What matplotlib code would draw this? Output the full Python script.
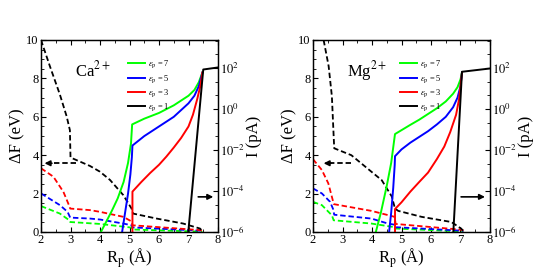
import numpy as np
import matplotlib
matplotlib.use("Agg")
import matplotlib.pyplot as plt
from matplotlib.ticker import FixedLocator, MultipleLocator, FuncFormatter

plt.rcParams["font.family"] = ["Liberation Serif", "DejaVu Serif"]
plt.rcParams["mathtext.fontset"] = "stix"

colors = {7: "#00ff00", 5: "#0000ff", 3: "#ff0000", 1: "#000000"}
eps_order = [7, 5, 3, 1]

# ---- Ca2+ : free energy barrier (dashed, left axis) ----
ca_df = {
    1: ([2.0, 2.3, 2.64, 2.87, 2.98, 3.0, 3.66, 4.0, 4.34, 4.79, 5.07, 5.12, 5.92, 6.82, 7.39, 7.47],
        [10.0, 8.64, 7.16, 6.02, 5.3, 3.88, 3.44, 3.14, 2.71, 1.92, 1.22, 0.96, 0.70, 0.44, 0.18, 0.05]),
    3: ([2.0, 2.42, 2.76, 2.96, 2.99, 3.66, 4.0, 4.79, 5.07, 5.1, 7.39, 7.47],
        [3.32, 2.88, 2.09, 1.35, 1.22, 1.14, 1.05, 0.79, 0.55, 0.35, 0.1, 0.07]),
    5: ([2.0, 2.64, 2.9, 2.99, 3.66, 4.0, 4.79, 5.07, 5.1, 7.39, 7.47],
        [2.01, 1.4, 1.05, 0.75, 0.70, 0.65, 0.44, 0.35, 0.24, 0.07, 0.05]),
    7: ([2.0, 2.64, 2.96, 2.99, 4.0, 5.07, 5.1, 7.39, 7.47],
        [1.35, 0.96, 0.61, 0.52, 0.42, 0.23, 0.13, 0.02, 0.01]),
}
# ---- Ca2+ : current, log10(I/pA) (solid, right axis) ----
ca_logI = {
    7: ([4.03, 4.2, 4.4, 4.6, 4.8, 4.95, 5.05, 5.09, 5.5, 6.0, 6.5, 7.0, 7.2, 7.35, 7.47],
        [-6.0, -5.53, -4.97, -4.36, -3.56, -2.63, -1.69, -0.75, -0.47, -0.19, 0.18, 0.65, 0.93, 1.31, 1.78]),
    5: ([4.75, 4.85, 4.95, 5.03, 5.08, 5.1, 5.5, 6.0, 6.5, 7.0, 7.2, 7.35, 7.47],
        [-6.0, -5.06, -4.13, -3.19, -2.35, -1.78, -1.32, -0.85, -0.38, 0.28, 0.65, 1.12, 1.78]),
    3: ([5.1, 5.1, 5.4, 5.7, 6.0, 6.25, 6.5, 6.75, 7.0, 7.15, 7.3, 7.4, 7.47],
        [-6.5, -4.03, -3.56, -3.12, -2.72, -2.32, -1.88, -1.41, -0.85, -0.28, 0.51, 1.12, 1.78]),
    1: ([6.98, 7.5, 8.0],
        [-6.2, 1.93, 2.03]),
}

# ---- Mg2+ : free energy barrier ----
mg_df = {
    1: ([2.36, 2.53, 2.64, 2.7, 2.72, 3.3, 3.98, 4.33, 4.67, 4.78, 4.89, 5.68, 6.69, 7.02, 7.1],
        [10.0, 8.64, 7.07, 5.0, 4.36, 4.0, 3.14, 2.7, 1.85, 1.22, 1.1, 0.79, 0.52, 0.18, 0.05]),
    3: ([2.0, 2.3, 2.52, 2.68, 2.71, 3.65, 3.98, 4.77, 4.8, 7.02, 7.1],
        [3.79, 3.23, 2.53, 1.6, 1.45, 1.19, 1.1, 0.79, 0.42, 0.12, 0.08]),
    5: ([2.0, 2.3, 2.58, 2.68, 2.72, 3.98, 4.54, 4.77, 4.8, 7.02, 7.1],
        [2.27, 2.01, 1.57, 1.2, 0.9, 0.70, 0.44, 0.38, 0.25, 0.07, 0.05]),
    7: ([2.0, 2.3, 2.64, 2.7, 3.98, 4.77, 4.8, 7.02, 7.1],
        [1.57, 1.4, 0.87, 0.61, 0.44, 0.25, 0.18, 0.03, 0.02]),
}
mg_logI = {
    7: ([4.13, 4.3, 4.5, 4.65, 4.77, 4.78, 5.0, 5.3, 5.6, 5.9, 6.2, 6.5, 6.75, 6.9, 7.0, 7.05],
        [-6.0, -5.06, -3.75, -2.63, -1.32, -1.22, -1.03, -0.77, -0.52, -0.24, 0.04, 0.37, 0.75, 1.07, 1.45, 1.78]),
    5: ([4.58, 4.65, 4.72, 4.77, 4.78, 5.0, 5.3, 5.6, 5.9, 6.2, 6.5, 6.75, 6.9, 7.0, 7.05],
        [-6.0, -5.06, -3.84, -2.72, -2.30, -1.97, -1.64, -1.36, -1.08, -0.75, -0.38, 0.09, 0.56, 1.12, 1.78]),
    3: ([4.78, 4.78, 5.0, 5.3, 5.6, 5.9, 6.2, 6.45, 6.65, 6.85, 6.95, 7.05],
        [-6.5, -4.88, -4.55, -4.03, -3.56, -3.10, -2.44, -1.83, -1.13, -0.28, 0.47, 1.78]),
    1: ([6.75, 7.05, 8.0],
        [-6.2, 1.82, 1.98]),
}

# arrows: (tail x, head x, y) in Rp / dF units
ca_arrows = {"left": (3.2, 2.12, 3.58), "right": (7.33, 7.84, 1.83)}
mg_arrows = {"left": (3.3, 2.36, 3.58), "right": (7.02, 7.83, 1.83)}

major_I = [1e-6, 1e-4, 1e-2, 1e0, 1e2]
minor_I = [10 ** (-6 + 2 * k / 3) for k in range(15) if k % 3 != 0]


def log_fmt(v, pos):
    return r"$10^{%d}$" % int(round(np.log10(v)))


def panel(ax, df, logI, arrows, ion):
    ax2 = ax.twinx()
    for e in eps_order:
        x, y = df[e]
        ax.plot(x, y, color=colors[e], lw=1.3, dashes=(3, 1.6))
    handles = []
    for e in eps_order:
        x, ly = logI[e]
        h, = ax2.plot(x, 10 ** np.array(ly), color=colors[e], lw=1.4,
                      label=r"$\varepsilon_{\rm p}$ = %d" % e)
        handles.append(h)

    ax.set_xlim(2, 8)
    ax.set_ylim(0, 10)
    ax.xaxis.set_major_locator(MultipleLocator(1))
    ax.xaxis.set_minor_locator(MultipleLocator(0.5))
    ax.yaxis.set_major_locator(MultipleLocator(2))
    ax.yaxis.set_minor_locator(MultipleLocator(0.5))
    ax.tick_params(which="both", direction="in", top=True, right=False,
                   labelsize=9, pad=1.5)
    ax.tick_params(which="major", length=3.5)
    ax.tick_params(which="minor", length=2)

    ax2.set_yscale("log")
    ax2.set_ylim(1e-6, 10 ** 3.37)
    ax2.yaxis.set_major_locator(FixedLocator(major_I))
    ax2.yaxis.set_minor_locator(FixedLocator(minor_I))
    ax2.yaxis.set_major_formatter(FuncFormatter(log_fmt))
    ax2.tick_params(which="both", direction="in", labelsize=9, pad=1.5)
    ax2.tick_params(which="major", length=3.5)
    ax2.tick_params(which="minor", length=2)

    ax.set_xlabel(r"R$_{\rm p}$ (Å)", fontsize=12, labelpad=0)
    ax.set_ylabel("ΔF (eV)", fontsize=12, labelpad=1)
    ax2.set_ylabel("I (pA)", fontsize=12, labelpad=1)

    # direction arrows
    t, h, y = arrows["left"]
    ax.plot([t, h + 0.2], [y, y], color="k", lw=1.3, dashes=(3, 1.6))
    ax.annotate("", xy=(h, y), xytext=(h + 0.25, y),
                arrowprops=dict(arrowstyle="-|>", color="k", lw=1.2,
                                mutation_scale=8, shrinkA=0, shrinkB=0))
    t, h, y = arrows["right"]
    ax.annotate("", xy=(h, y), xytext=(t, y),
                arrowprops=dict(arrowstyle="-|>", color="k", lw=1.2,
                                mutation_scale=8, shrinkA=0, shrinkB=0))

    ax.text(3.15, 8.1, ion, fontsize=12, ha="left", va="baseline")
    ax2.legend(handles=handles, loc="upper left", bbox_to_anchor=(0.47, 0.925),
               frameon=False, fontsize=6, handlelength=2.0,
               handletextpad=0.4, labelspacing=0.3, borderpad=0)
    for sp in ax.spines.values():
        sp.set_linewidth(0.9)
    for sp in ax2.spines.values():
        sp.set_linewidth(0.9)


fig = plt.figure(figsize=(5.45, 2.73), dpi=100)
ax_ca = fig.add_axes([41 / 545, 41 / 273, 177 / 545, 192 / 273])
ax_mg = fig.add_axes([313 / 545, 41 / 273, 177 / 545, 192 / 273])

panel(ax_ca, ca_df, ca_logI, ca_arrows, r"Ca$^{2+}$")
panel(ax_mg, mg_df, mg_logI, mg_arrows, r"Mg$^{2+}$")

fig.savefig("out.png", dpi=100)
